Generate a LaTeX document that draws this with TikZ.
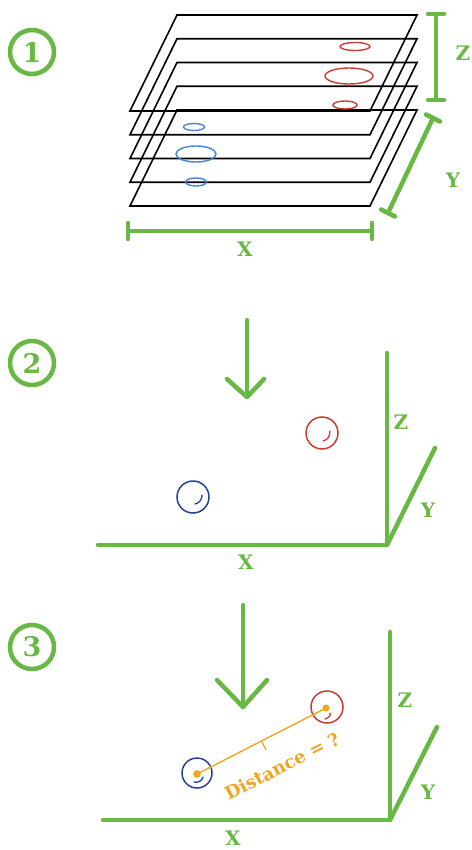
\documentclass[tikz,border=0pt]{standalone}
\usepackage{fontspec}
\setmainfont{DejaVu Serif}
\definecolor{grn}{RGB}{104,184,68}
\definecolor{rd}{RGB}{200,62,50}
\definecolor{lblue}{RGB}{70,130,222}
\definecolor{dblue}{RGB}{40,64,150}
\definecolor{orng}{RGB}{240,165,35}
\tikzset{
  gline/.style={draw=grn,line width=4.5pt,line cap=round,line join=round},
  plane/.style={draw=black,line width=1.6pt,line join=miter},
  glabel/.style={text=grn,font=\fontsize{20}{20}\selectfont\bfseries,inner sep=0pt},
  numcirc/.style={circle,draw=grn,line width=4.5pt,minimum size=44pt,inner sep=0pt,text=grn,font=\fontsize{27}{27}\selectfont\bfseries},
  ball/.style={line width=1.5pt},
  smile/.style={line width=1.3pt,line cap=round},
}
\begin{document}
\begin{tikzpicture}[x=1pt,y=-1pt]
\useasboundingbox (0,0) rectangle (471,850);

% ---------- Panel 1 ----------
\node[numcirc] (n1) at (32,52) {1};
\foreach \k in {0,...,4}{
  \pgfmathsetmacro{\dy}{\k*23.75}
  \draw[plane] (177,15+\dy) -- (417,15+\dy) -- (370,111+\dy) -- (130,111+\dy) -- cycle;
}
% red ellipses
\draw[rd,line width=1.4pt] (355,46.5) ellipse[x radius=15,y radius=4];
\draw[rd,line width=1.4pt] (349,76) ellipse[x radius=24,y radius=8];
\draw[rd,line width=1.4pt] (345,105) ellipse[x radius=12,y radius=4];
% blue ellipses
\draw[lblue,line width=1.4pt] (194,127) ellipse[x radius=10.5,y radius=3.5];
\draw[lblue,line width=1.4pt] (196,154) ellipse[x radius=20,y radius=8];
\draw[lblue,line width=1.4pt] (196,182) ellipse[x radius=10.5,y radius=4];
% Z bracket
\coordinate (zt) at (436,14);
\coordinate (zb) at (436,100);
\draw[gline] (zt) -- (zb);
\draw[gline] (428,14) -- (444,14);
\draw[gline] (428,100) -- (444,100);
\node[glabel] (z1) at (463,53) {Z};
% Y bracket
\coordinate (yt) at (433,118);
\coordinate (yb) at (388,213);
\draw[gline] (yt) -- (yb);
\draw[gline] (426,114.5) -- (440,121.5);
\draw[gline] (381,209.5) -- (395,216.5);
\node[glabel] (y1) at (453,180) {Y};
% X bracket
\coordinate (xl) at (128,231);
\coordinate (xr) at (372,231);
\draw[gline] (xl) -- (xr);
\draw[gline] (128,223) -- (128,239);
\draw[gline] (372,223) -- (372,239);
\node[glabel] (x1) at (245,249) {X};

% ---------- Panel 2 ----------
\node[numcirc] (n2) at (32,363) {2};
\coordinate (a2s) at (247,320);
\coordinate (a2e) at (247,397);
\draw[gline] (a2s) -- (a2e);
\draw[gline] (227,379) -- (a2e) -- (264,379);
\coordinate (o2) at (387,545);
\draw[gline] (387,353) -- (o2) -- (98,545);
\draw[gline] (o2) -- (435,448);
\node[glabel] (z2) at (401,422) {Z};
\node[glabel] (y2) at (428,510) {Y};
\node[glabel] (x2) at (246,562) {X};
\draw[rd,ball] (322,433) circle[radius=16];
\draw[rd,smile] (330,431) .. controls (330,437) and (327,440) .. (323,441);
\draw[dblue,ball] (193,497) circle[radius=16];
\draw[dblue,smile] (202,495) .. controls (202,500) and (199,503) .. (195,504);

% ---------- Panel 3 ----------
\node[numcirc] (n3) at (32,647) {3};
\coordinate (a3s) at (243,605);
\coordinate (a3e) at (243,707);
\draw[gline] (a3s) -- (a3e);
\draw[gline] (217,680) -- (a3e) -- (267,680);
\coordinate (o3) at (390,820);
\draw[gline] (390,632) -- (o3) -- (103,820);
\draw[gline] (o3) -- (437,727);
\node[glabel] (z3) at (405,700) {Z};
\node[glabel] (y3) at (428,792) {Y};
\node[glabel] (x3) at (233,838) {X};
\draw[rd,ball] (327,707) circle[radius=16];
\draw[rd,smile] (330,713) .. controls (331,715) and (329,718) .. (325,719);
\draw[dblue,ball] (197,773) circle[radius=15];
\draw[dblue,smile] (194,782) .. controls (198,783) and (202,781) .. (203,777);
\coordinate (pr) at (326,708);
\coordinate (pb) at (197,774);
\draw[orng,line width=1.4pt] (pb) -- (pr);
\fill[orng] (pr) circle[radius=3.5];
\fill[orng] (pb) circle[radius=3.8];
\draw[orng,line width=1.3pt] (262,742) -- (266,750);
\node[text=orng,font=\fontsize{18}{18}\selectfont\bfseries,rotate=27,inner sep=0pt] (dist) at (282,766) {Distance = ?};
\end{tikzpicture}
\end{document}
